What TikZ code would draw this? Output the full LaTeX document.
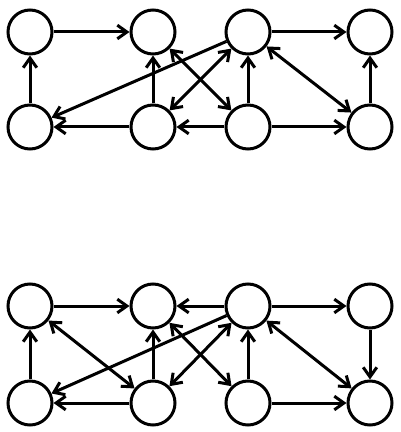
\documentclass[tikz,border=0pt]{standalone}
\usetikzlibrary{arrows.meta}

\begin{document}
\begin{tikzpicture}[x=0.025cm, y=-0.025cm, line width=0.75mm,
        every node/.style={draw, circle, minimum size=1.1cm, inner sep=0pt},
        >={Straight Barb[length=2.4mm,width=3.4mm]}]
        \useasboundingbox (0,0) rectangle (400,432);

        \node (a1) at (30,32) {};
        \node (a2) at (153,32) {};
        \node (a3) at (248,32) {};
        \node (a4) at (370,32) {};
        \node (b1) at (30,127) {};
        \node (b2) at (153,127) {};
        \node (b3) at (248,127) {};
        \node (b4) at (370,127) {};

        \draw[->] (a1) -- (a2);
        \draw[->] (b1) -- (a1);
        \draw[->] (b2) -- (a2);
        \draw[->] (b2) -- (b1);
        \draw[->] (a3) -- (b1);
        \draw[<->] (a2) -- (b3);
        \draw[<->] (b2) -- (a3);
        \draw[->] (b3) -- (b2);
        \draw[->] (b3) -- (a3);
        \draw[->] (a3) -- (a4);
        \draw[<->] (a3) -- (b4);
        \draw[->] (b3) -- (b4);
        \draw[->] (b4) -- (a4);

        \node (c1) at (30,306) {};
        \node (c2) at (153,306) {};
        \node (c3) at (248,306) {};
        \node (c4) at (370,306) {};
        \node (d1) at (30,403) {};
        \node (d2) at (153,403) {};
        \node (d3) at (248,403) {};
        \node (d4) at (370,403) {};

        \draw[->] (c1) -- (c2);
        \draw[->] (d1) -- (c1);
        \draw[<->] (c1) -- (d2);
        \draw[->] (c3) -- (d1);
        \draw[->] (d2) -- (d1);
        \draw[->] (d2) -- (c2);
        \draw[->] (c3) -- (c2);
        \draw[<->] (c2) -- (d3);
        \draw[<->] (d2) -- (c3);
        \draw[->] (d3) -- (c3);
        \draw[->] (c3) -- (c4);
        \draw[<->] (c3) -- (d4);
        \draw[->] (d3) -- (d4);
        \draw[->] (c4) -- (d4);
    \end{tikzpicture}
\end{document}
